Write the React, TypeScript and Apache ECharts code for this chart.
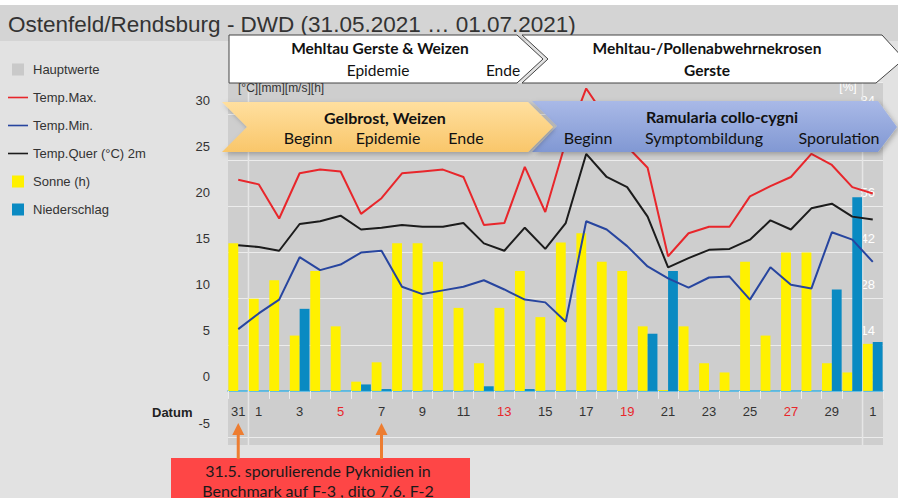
import React, { useEffect, useRef } from 'react';
import * as echarts from 'echarts';

const categories = [
  '31.05.', '01.06.', '02.06.', '03.06.', '04.06.', '05.06.', '06.06.', '07.06.',
  '08.06.', '09.06.', '10.06.', '11.06.', '12.06.', '13.06.', '14.06.', '15.06.',
  '16.06.', '17.06.', '18.06.', '19.06.', '20.06.', '21.06.', '22.06.', '23.06.',
  '24.06.', '25.06.', '26.06.', '27.06.', '28.06.', '29.06.', '30.06.', '01.07.',
];
const redDays = ['05.06.', '13.06.', '19.06.', '27.06.'];

const tempMax = [22.9, 22.4, 18.7, 23.6, 24.0, 23.8, 19.2, 20.9, 23.6, 23.8, 24.0, 23.2, 18.0, 18.2, 24.3, 19.4,
  27.0, 32.8, 29.5, 26.5, 24.2, 14.6, 17.1, 17.8, 17.8, 21.1, 22.2, 23.2, 25.7, 24.5, 22.1, 21.4];
const tempMin = [6.7, 8.4, 9.9, 14.5, 13.1, 13.7, 15.0, 15.2, 11.3, 10.5, 10.9, 11.3, 12.0, 11.0, 9.9, 9.6,
  7.5, 18.4, 17.5, 15.7, 13.5, 12.2, 11.2, 12.3, 12.4, 9.9, 13.4, 11.5, 11.1, 17.2, 16.4, 14.0];
const tempQuer = [15.8, 15.6, 15.2, 18.1, 18.4, 19.0, 17.5, 17.7, 18.0, 17.8, 17.8, 18.2, 16.0, 15.2, 17.7, 15.4,
  18.2, 25.7, 23.2, 22.1, 18.9, 13.4, 14.4, 15.3, 15.4, 16.4, 18.5, 17.5, 19.8, 20.3, 18.9, 18.6];
const sonne = [16, 10, 12, 6, 13, 7, 1, 3.1, 16, 16, 14, 9, 3, 9, 13, 8,
  16.1, 17.1, 14, 13, 7, 0.1, 7, 3, 2, 14, 6, 15, 15, 3, 2, 5.1];
const niederschlag = [0, 0, 0, 8.9, 0, 0, 0.7, 0.2, 0, 0, 0, 0, 0.5, 0, 0.2, 0,
  0, 0, 0, 0, 6.2, 13.0, 0, 0, 0, 0, 0, 0, 0, 11.0, 21.0, 5.3];

const arrowDays = ['31.05.', '07.06.'];

const FONT = '"Liberation Sans", Arial, sans-serif';
const CAL = 'Lato, "Open Sans", sans-serif';
const SQUARE = 'path://M0 0H10V10H0Z';
const LINEICON = 'path://M0 0H20V1.6H0Z';

const Y_MIN = -5;
const Y_MAX = 33.5;
const GRID_TOP = 82;
const GRID_BOTTOM = 61;
const PLOT_H = 498 - GRID_TOP - GRID_BOTTOM;
const ZERO_OFFSET = (PLOT_H * (0 - Y_MIN)) / (Y_MAX - Y_MIN);

function txt(id: string, text: string, x: number, y: number, font: string, fill = '#111', align = 'center', z = 110) {
  return { type: 'text', id, z, style: { text, x, y, fill, font, textAlign: align, textVerticalAlign: 'middle' } };
}

export default function App() {
  const ref = useRef<HTMLDivElement>(null);
  useEffect(() => {
    if (!ref.current) return;
    const chart = echarts.init(ref.current, null, { renderer: 'svg' });
    const option: any = {
      animation: false,
      backgroundColor: '#e2e2e2',
      title: {
        text: 'Ostenfeld/Rendsburg - DWD (31.05.2021 … 01.07.2021)',
        left: 3, top: 8,
        textStyle: { fontFamily: FONT, fontSize: 22.5, fontWeight: 'normal', color: '#333' },
      },
      legend: {
        orient: 'vertical', left: 3, top: 58, itemWidth: 20, itemHeight: 12, itemGap: 15,
        textStyle: { fontFamily: FONT, fontSize: 13, color: '#333' },
        data: [
          { name: 'Hauptwerte', icon: SQUARE },
          { name: 'Temp.Max.', icon: LINEICON },
          { name: 'Temp.Min.', icon: LINEICON },
          { name: 'Temp.Quer (°C) 2m', icon: LINEICON },
          { name: 'Sonne (h)', icon: SQUARE },
          { name: 'Niederschlag', icon: SQUARE },
        ],
      },
      grid: { left: 228, right: 15, top: GRID_TOP, bottom: GRID_BOTTOM },
      xAxis: {
        type: 'category', data: categories, boundaryGap: true,
        offset: -ZERO_OFFSET,
        axisLine: { onZero: false, lineStyle: { color: '#3aaee0', width: 1.5 } },
        axisTick: { show: true, interval: 0, length: 8, lineStyle: { color: '#ececec' } },
        axisLabel: {
          interval: (i: number) => i === 0 || i % 2 === 1,
          formatter: (v: string) => String(parseInt(v, 10)),
          color: (v: string) => (redDays.includes(v) ? '#e8262b' : '#333'),
          fontFamily: FONT, fontSize: 13, margin: 14,
        },
        splitLine: { show: false },
      },
      yAxis: [
        {
          type: 'value', min: Y_MIN, max: Y_MAX, interval: 5,
          axisLine: { show: false }, axisTick: { show: false },
          splitLine: { lineStyle: { color: '#ececec', width: 1 } },
          axisLabel: { showMaxLabel: false, color: '#333', fontFamily: FONT, fontSize: 13, margin: 18, verticalAlign: 'bottom', lineHeight: 28 },
        },
        {
          type: 'value', min: -14, max: 93.8, interval: 14, position: 'right',
          axisLine: { show: false }, axisTick: { show: false }, splitLine: { show: false },
          axisLabel: { inside: true, showMaxLabel: false, showMinLabel: false, color: '#fff', fontFamily: FONT, fontSize: 13, margin: 8, verticalAlign: 'bottom', lineHeight: 28 },
        },
      ],
      series: [
        { name: 'Sonne (h)', type: 'bar', data: sonne, itemStyle: { color: '#fff100' }, barGap: '0%', barCategoryGap: '4%' },
        { name: 'Niederschlag', type: 'bar', data: niederschlag, itemStyle: { color: '#0a8ac2' } },
        { name: 'Temp.Max.', type: 'line', data: tempMax, symbol: 'none', itemStyle: { color: '#e8262b' }, lineStyle: { color: '#e8262b', width: 2 } },
        { name: 'Temp.Min.', type: 'line', data: tempMin, symbol: 'none', itemStyle: { color: '#27459f' }, lineStyle: { color: '#27459f', width: 2 } },
        { name: 'Temp.Quer (°C) 2m', type: 'line', data: tempQuer, symbol: 'none', itemStyle: { color: '#1c1c1c' }, lineStyle: { color: '#1c1c1c', width: 2 } },
        { name: 'Hauptwerte', type: 'line', data: [], symbol: 'none', itemStyle: { color: '#c9c9c9' } },
      ],
      graphic: [
        { type: 'rect', id: 'topwhite', z: -20, shape: { x: 0, y: 0, width: 898, height: 5 }, style: { fill: '#ffffff' } },
        { type: 'rect', id: 'band', z: -20, shape: { x: 0, y: 5, width: 898, height: 36 }, style: { fill: '#d4d4d4' } },
        { type: 'rect', id: 'plotbg', z: -20, shape: { x: 228, y: 82, width: 655, height: 363 }, style: { fill: '#cecece' } },
        txt('unitL', '[°C][mm][m/s][h]', 238, 88, `12px ${FONT}`, '#333', 'left', 50),
        txt('unitR', '[%]', 848, 87, `12px ${FONT}`, '#ffffff', 'center', 50),
        txt('datum', 'Datum', 152, 412, `bold 13px ${FONT}`, '#222', 'left', 50),
        // white banners
        { type: 'polygon', id: 'wb1', z: 100, shape: { points: [[229, 35], [517, 35], [543, 59], [517, 83], [229, 83]] }, style: { fill: '#ffffff', stroke: '#444', lineWidth: 1 } },
        { type: 'polygon', id: 'wb2', z: 100, shape: { points: [[522, 35], [882, 35], [904, 59], [876, 83], [522, 83], [548, 59]] }, style: { fill: '#ffffff', stroke: '#444', lineWidth: 1 } },
        txt('wb1t', 'Mehltau Gerste & Weizen', 380, 48, `bold 15.5px ${CAL}`),
        txt('wb1a', 'Epidemie', 378, 70, `15.5px ${CAL}`),
        txt('wb1b', 'Ende', 503, 70, `15.5px ${CAL}`),
        txt('wb2t', 'Mehltau-/Pollenabwehrnekrosen', 707, 48, `bold 15.5px ${CAL}`),
        txt('wb2a', 'Gerste', 707, 70, `bold 15.5px ${CAL}`),
        // orange banner
        {
          type: 'polygon', id: 'ob', z: 100,
          shape: { points: [[222, 102], [528, 102], [553, 127], [528, 152], [222, 152], [247, 127]] },
          style: {
            fill: new echarts.graphic.LinearGradient(0, 0, 0, 1, [{ offset: 0, color: '#ffdf9f' }, { offset: 1, color: '#f9c66a' }]),
            shadowBlur: 5, shadowOffsetX: 2, shadowOffsetY: 2, shadowColor: 'rgba(0,0,0,0.25)',
          },
        },
        txt('obt', 'Gelbrost, Weizen', 385, 117, `bold 16px ${CAL}`),
        txt('oba', 'Beginn', 308, 137, `16px ${CAL}`),
        txt('obb', 'Epidemie', 388, 137, `16px ${CAL}`),
        txt('obc', 'Ende', 466, 137, `16px ${CAL}`),
        // blue banner
        {
          type: 'polygon', id: 'bb', z: 99,
          shape: { points: [[532, 101], [878, 101], [897, 127], [878, 152], [532, 152], [557, 126]] },
          style: {
            fill: new echarts.graphic.LinearGradient(0, 0, 0, 1, [{ offset: 0, color: '#a9b9e7' }, { offset: 1, color: '#8198d3' }]),
            shadowBlur: 5, shadowOffsetX: 2, shadowOffsetY: 2, shadowColor: 'rgba(0,0,0,0.25)',
          },
        },
        txt('bbt', 'Ramularia collo-cygni', 722, 116, `bold 16px ${CAL}`),
        txt('bba', 'Beginn', 588, 137, `16px ${CAL}`),
        txt('bbb', 'Symptombildung', 704, 137, `16px ${CAL}`),
        txt('bbc', 'Sporulation', 839, 137, `16px ${CAL}`),
        // red note box
        { type: 'rect', id: 'note', z: 100, shape: { x: 171, y: 458, width: 299, height: 45 }, style: { fill: '#fe4646' } },
        txt('note1', '31.5. sporulierende Pyknidien in', 318, 470, `16px ${CAL}`, '#1a1a1a'),
        txt('note2', 'Benchmark auf F-3 , dito 7.6. F-2', 318, 490, `16px ${CAL}`, '#1a1a1a'),
      ],
    };
    chart.setOption(option);

    const extra: any[] = [];
    const xs = categories.map((c) => chart.convertToPixel({ xAxisIndex: 0 }, c) as number);
    const b1 = (xs[0] + xs[1]) / 2;
    const b2 = (xs[30] + xs[31]) / 2;
    [b1, b2].forEach((bx, i) => {
      extra.push({ type: 'line', id: 'vb' + i, z: 1, shape: { x1: bx, y1: 82, x2: bx, y2: 445 }, style: { stroke: '#e6e6e6', lineWidth: 1.5 } });
    });
    arrowDays.forEach((d, i) => {
      const ax = chart.convertToPixel({ xAxisIndex: 0 }, d) as number;
      extra.push({ type: 'rect', id: 'ash' + i, z: 100, shape: { x: ax - 1.5, y: 432, width: 3, height: 27 }, style: { fill: '#ed7d31' } });
      extra.push({ type: 'polygon', id: 'ahd' + i, z: 100, shape: { points: [[ax - 6, 435], [ax + 6, 435], [ax, 423]] }, style: { fill: '#ed7d31' } });
    });
    chart.setOption({ graphic: extra });
    return () => chart.dispose();
  }, []);
  return <div ref={ref} style={{ position: 'fixed', left: 0, top: 0, width: 898, height: 498 }} />;
}
